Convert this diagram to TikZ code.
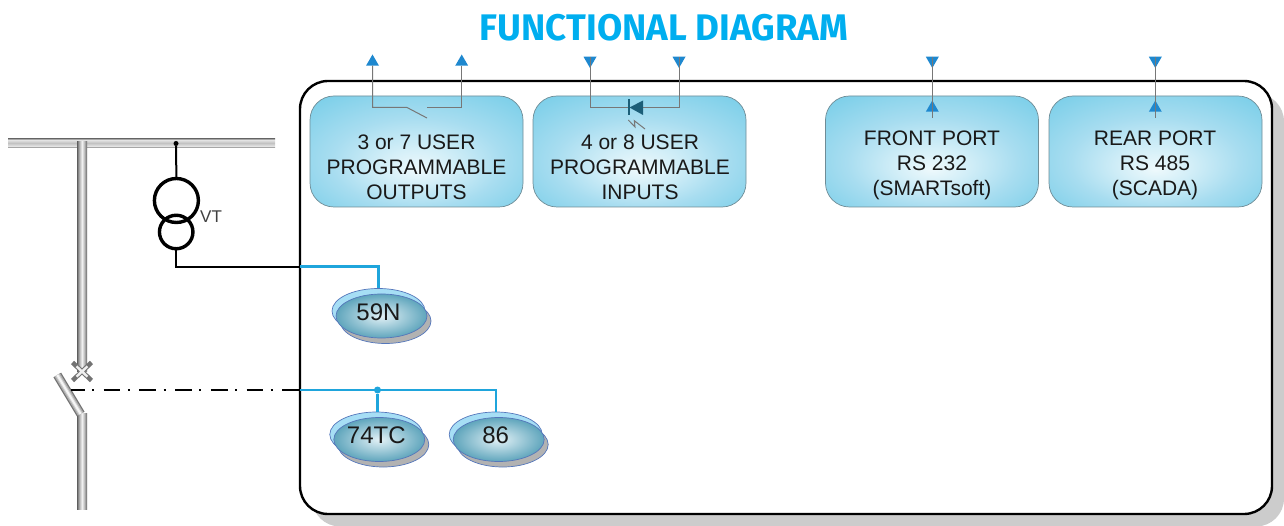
\documentclass[tikz,border=0pt]{standalone}
\usepackage{fontspec}
\setmainfont{Liberation Sans}
\newfontfamily\titlefont[FakeStretch=0.99]{Fira Sans}
\usetikzlibrary{shapes.geometric}
\definecolor{titlec}{HTML}{00AEEF}
\definecolor{bluewire}{HTML}{1FA5DC}
\definecolor{tribluec}{HTML}{1E88CF}
\definecolor{boxouter}{HTML}{7CCFE9}
\definecolor{boxmida}{HTML}{A8DDF0}
\definecolor{boxmidb}{HTML}{D4EFF8}
\definecolor{boxinner}{HTML}{EEF9FC}
\definecolor{boxedge}{HTML}{6F8C96}
\definecolor{ellback}{HTML}{A6DEF5}
\definecolor{elledge}{HTML}{5577BB}
\definecolor{ellouter}{HTML}{5FA5BC}
\definecolor{ellinner}{HTML}{E2F1F6}
\definecolor{wiregray}{HTML}{777777}
\definecolor{diodec}{HTML}{1B5E78}
\definecolor{shadowc}{HTML}{CCCCCC}
\definecolor{pipea}{HTML}{5E5E5E}
\definecolor{pipeb}{HTML}{949494}
\definecolor{pipem}{HTML}{CFCFCF}
\definecolor{pipec}{HTML}{F0F0F0}
\definecolor{busa}{HTML}{858585}
\definecolor{busb}{HTML}{E4E4E4}
\definecolor{busc}{HTML}{C2C2C2}
\pgfdeclareradialshading{boxshade}{\pgfpoint{0bp}{-8bp}}{%
  color(0bp)=(boxinner); color(8bp)=(boxmidb); color(20bp)=(boxmida); color(35bp)=(boxouter); color(50bp)=(boxouter)}
\pgfdeclarehorizontalshading{pipeh}{100bp}{%
  color(0bp)=(pipea); color(25bp)=(pipea); color(32bp)=(pipeb); color(42bp)=(pipem); color(50bp)=(pipec); color(58bp)=(pipem); color(68bp)=(pipeb); color(75bp)=(pipea); color(100bp)=(pipea)}
\pgfdeclareverticalshading{pipev}{100bp}{%
  color(0bp)=(busa); color(25bp)=(busa); color(33bp)=(busb); color(50bp)=(busc); color(67bp)=(busb); color(75bp)=(busa); color(100bp)=(busa)}
\tikzset{
  x=1pt,y=-1pt,
  mainframe/.style={draw=black,line width=2.4pt,fill=white,rectangle,rounded corners=28pt,minimum width=972pt,minimum height=433pt,inner sep=0pt,outer sep=0pt},
  shadowbox/.style={fill=shadowc,rectangle,rounded corners=28pt,minimum width=972pt,minimum height=433pt,inner sep=0pt,outer sep=0pt},
  funcbox/.style={draw=boxedge,line width=.7pt,rectangle,rounded corners=24pt,minimum width=213pt,minimum height=111pt,inner sep=0pt,outer sep=0pt,shading=boxshade},
  boxtext/.style={align=center,inner sep=0pt,font=\fontsize{21}{25}\selectfont,text=black!90},
  triup/.style={regular polygon,regular polygon sides=3,fill=tribluec,minimum size=15pt,inner sep=0pt,outer sep=0pt},
  tridown/.style={triup,shape border rotate=180},
  thinwire/.style={draw=wiregray,line width=1pt},
  blackwire/.style={draw=black,line width=2pt},
  bluelink/.style={draw=bluewire,line width=2.4pt},
  hbar/.style={rectangle,inner sep=0pt,outer sep=0pt,shading=pipev},
  vbar/.style={rectangle,inner sep=0pt,outer sep=0pt,shading=pipeh},
  ringnode/.style={circle,draw=black,line width=3.4pt,inner sep=0pt,outer sep=0pt},
  ellbase/.style={ellipse,minimum width=91pt,minimum height=44pt,inner sep=0pt,outer sep=0pt,draw=elledge,line width=.7pt},
}
\newcommand{\relaynode}[4]{%
  \node[ellbase,fill=gray!60,minimum height=45pt] (#1g) at (#2+4,#3+5) {};
  \node[ellbase,fill=ellback,minimum width=93pt,minimum height=45pt] (#1b) at (#2-3,#3-5) {};
  \node[ellbase,inner color=ellinner,outer color=ellouter] (#1m) at (#2,#3) {};
  \node[inner sep=0pt,font=\fontsize{24}{26}\selectfont,text=black!90] (#1t) at (#2-3,#3-4) {#4};
}
\begin{document}
\begin{tikzpicture}
\useasboundingbox (0,0) rectangle (1284,526);
% title
\node[font=\titlefont\bfseries\fontsize{37}{40}\selectfont,text=titlec,inner sep=0pt] (title) at (664,28) {FUNCTIONAL DIAGRAM};
% frame
\node[shadowbox] (shadow) at (798,310) {};
\node[mainframe] (main) at (786,297.5) {};
% boxes
\node[funcbox] (outbox) at (416.5,151.5) {};
\node[funcbox] (inbox) at (639.5,151.5) {};
\node[funcbox] (frontbox) at (932,151.5) {};
\node[funcbox] (rearbox) at (1155.5,151.5) {};
% outputs
\node[triup] (to1) at (372.5,62) {};
\node[triup] (to2) at (461.7,62) {};
\coordinate (so1) at (407,107.5);
\coordinate (so2) at (427,118);
\coordinate (so3) at (427,107.5);
\draw[thinwire] (to1.south) |- (so1) -- (so2);
\draw[thinwire] (so3) -| (to2.south);
% inputs
\node[tridown] (ti1) at (590,60.5) {};
\node[tridown] (ti2) at (679,60.5) {};
\draw[thinwire] (ti1.north) |- (629,107.5) -- (643,107.5) -| (ti2.north);
\fill[diodec] (629.5,107.5) -- (643,100.5) -- (643,115) -- cycle;
\draw[diodec,line width=1.2pt] (629,99) -- (629,115.5);
\draw[wiregray,line width=1pt] (628.3,120) -- (635,127) -- (634.3,120.7) -- (645,129);
% ports
\node[tridown] (tf1) at (932.3,60.5) {};
\node[triup] (tf2) at (932.3,108) {};
\coordinate (tf3) at (932.3,118);
\draw[thinwire] (tf1.north) -- (tf3);
\node[tridown] (tr1) at (1155.3,60.5) {};
\node[triup] (tr2) at (1155.3,108) {};
\coordinate (tr3) at (1155.3,118);
\draw[thinwire] (tr1.north) -- (tr3);
% texts
\node[boxtext] (ltxt1) at (416.5,167) {3 or 7 USER\\PROGRAMMABLE\\OUTPUTS};
\node[boxtext] (ltxt2) at (640,167) {4 or 8 USER\\PROGRAMMABLE\\INPUTS};
\node[boxtext] (ltxt3) at (932,165) {FRONT PORT\\RS 232\\(SMARTsoft)};
\node[boxtext] (ltxt4) at (1155,165) {REAR PORT\\RS 485\\(SCADA)};
% bus and feeder
\node[hbar,minimum width=267pt,minimum height=9pt] (bus) at (141.5,143) {};
\node[vbar,minimum width=10pt,minimum height=229pt] (feeder) at (82,256.5) {};
\coordinate (crossa) at (72.5,362.5);
\coordinate (crossb) at (91.5,380.5);
\coordinate (crossc) at (91.5,362.5);
\coordinate (crossd) at (72.5,380.5);
\draw[gray!110,line width=4.6pt] (crossa) -- (crossb) (crossc) -- (crossd);
\draw[gray!12,line width=2.4pt] (76.5,366.3) -- (87.5,376.7) (87.5,366.3) -- (76.5,376.7);
\node[vbar,minimum width=10pt,minimum height=96pt] (lower) at (82,461) {};
\coordinate (bladea) at (57.3,375);
\coordinate (bladeb) at (80.7,414);
\draw[gray!110,line width=9pt] (bladea) -- (bladeb);
\draw[gray!65,line width=6.5pt] (bladea) -- (bladeb);
\draw[gray!35,line width=4pt] (bladea) -- (bladeb);
\draw[gray!8,line width=2pt] (bladea) -- (bladeb);
% VT
\node[ringnode,minimum size=44pt] (vt1) at (176.4,200.5) {};
\node[ringnode,minimum size=33.5pt] (vt2) at (176.2,232) {};
\node[circle,fill=black,minimum size=5pt,inner sep=0pt] (busdot) at (176,143.5) {};
\draw[blackwire] (busdot) -- (vt1.north);
\node[anchor=west,inner sep=0pt,font=\fontsize{17}{18}\selectfont,text=black!75] (vtlabel) at (200,217) {VT};
\coordinate (entry1) at (300,266.7);
\draw[blackwire] (vt2.south) |- (entry1);
% relays
\relaynode{ra}{381.5}{316}{59N}
\relaynode{rb}{379.3}{439.5}{74TC}
\relaynode{rc}{498.7}{439.5}{86}
\coordinate (entry2) at (300,390);
\coordinate (poleend) at (71,390);
\draw[black,line width=2pt,dash pattern=on 16.7pt off 7.5pt on 2pt off 9.5pt,dash phase=3pt] (poleend) -- (entry2);
\draw[bluelink] (entry1) -| (rab.north);
\draw[bluelink] (entry2) -| (rcb.north);
\node[circle,fill=bluewire,minimum size=7pt,inner sep=0pt] (tdot) at (377.5,390) {};
\draw[bluelink] (tdot) -- (tdot |- rbb.north);
\end{tikzpicture}
\end{document}
